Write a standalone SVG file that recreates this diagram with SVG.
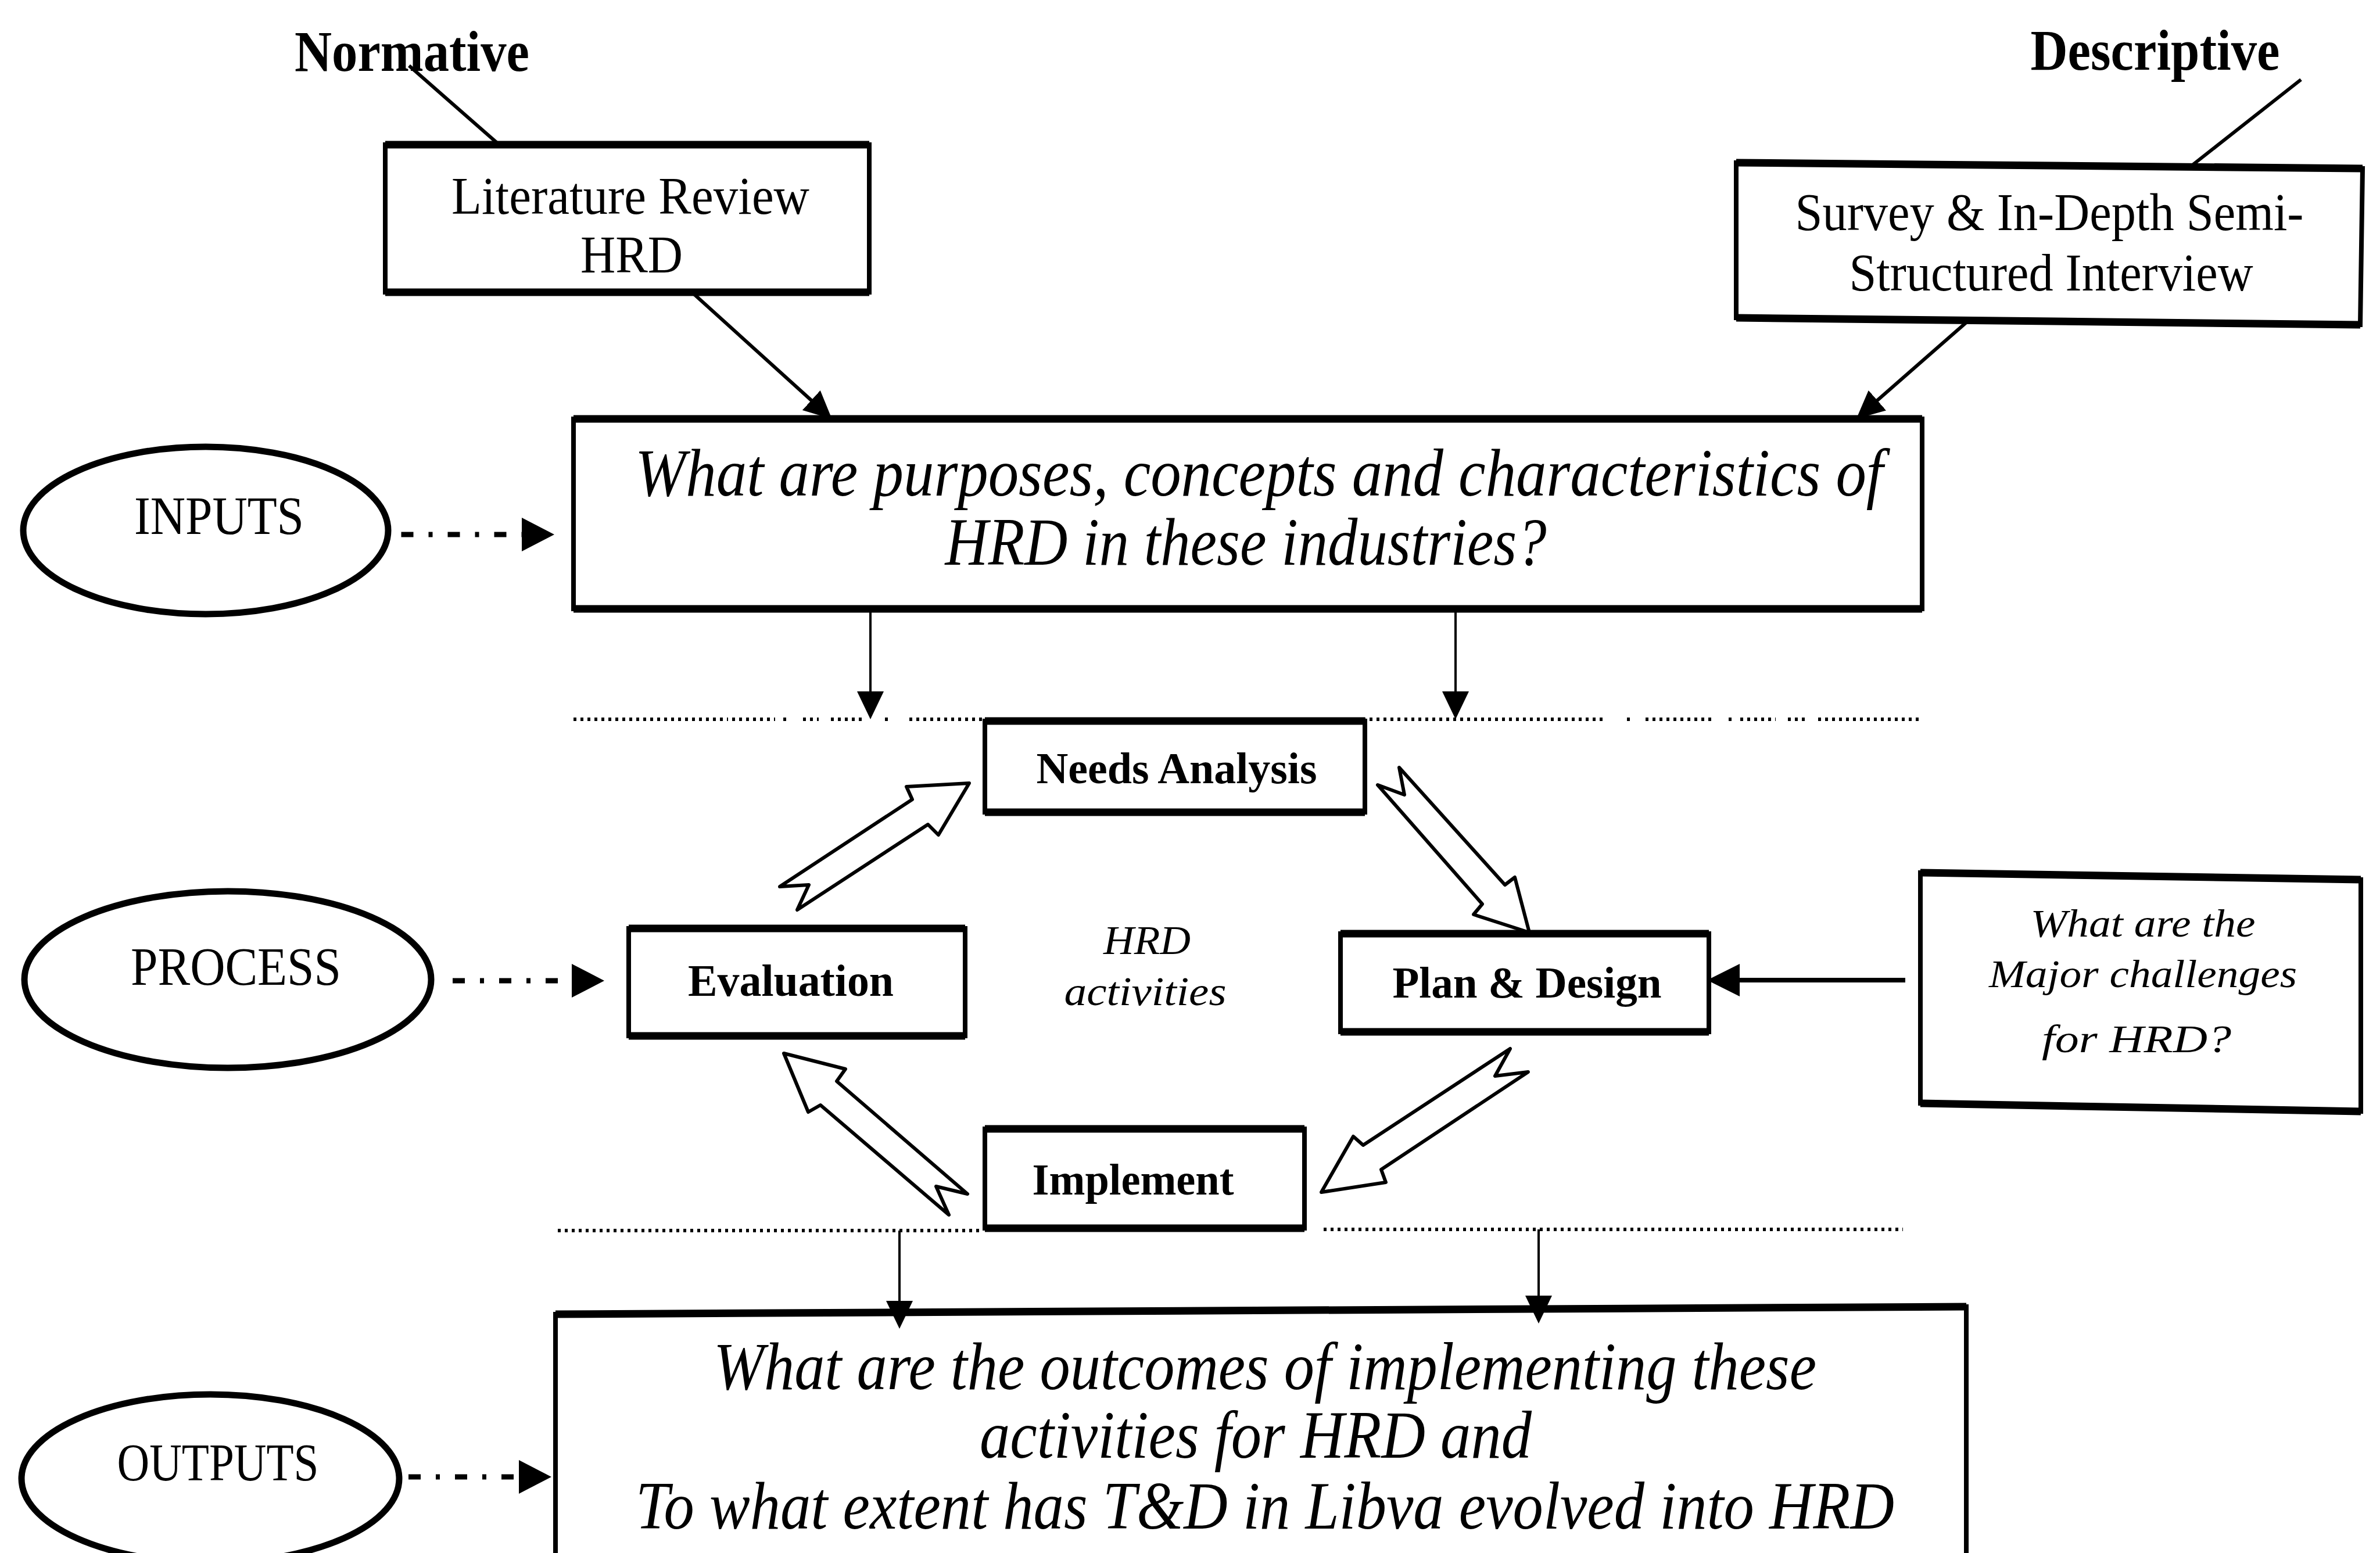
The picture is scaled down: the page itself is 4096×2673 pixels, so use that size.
<svg xmlns="http://www.w3.org/2000/svg" width="4096" height="2673" viewBox="0 0 4096 2673">
  <defs>
    <style>
      .box { fill: #fff; stroke: #000; stroke-width: 8; stroke-linejoin: miter; }
      .edge { fill: none; stroke: #000; stroke-width: 13; }
      .oval { fill: #fff; stroke: #000; stroke-width: 11; }
      .t { font-family: "Liberation Serif", "Times New Roman", serif; fill: #000; text-anchor: middle; }
      .b { font-weight: bold; }
      .i { font-style: italic; }
      .ln { fill: none; stroke: #000; stroke-width: 6; }
      .thin { fill: none; stroke: #000; stroke-width: 4; }
      .heavy { fill: none; stroke: #000; stroke-width: 8; }
      .dashdot { fill: none; stroke: #000; stroke-width: 9; stroke-dasharray: 21 26 7 26; }
      .dots { fill: none; stroke: #000; stroke-width: 6; stroke-dasharray: 5 7; }
      .block { fill: #fff; stroke: #000; stroke-width: 6; stroke-linejoin: round; }
    </style>
    <!-- solid triangular heads; the tip sits (length - refX) past the line end -->
    <marker id="ah" viewBox="0 0 48 46" refX="6" refY="23" markerWidth="48" markerHeight="46" markerUnits="userSpaceOnUse" orient="auto">
      <path d="M0,0 L48,23 L0,46 z" fill="#000"/>
    </marker>
    <marker id="ahw" viewBox="0 0 56 56" refX="6" refY="28" markerWidth="56" markerHeight="56" markerUnits="userSpaceOnUse" orient="auto">
      <path d="M0,0 L56,28 L0,56 z" fill="#000"/>
    </marker>
    <!-- head for the dash-dot level arrows, base placed at the line end -->
    <marker id="dd" viewBox="0 0 56 58" refX="0" refY="29" markerWidth="56" markerHeight="58" markerUnits="userSpaceOnUse" orient="auto">
      <path d="M0,0 L56,29 L0,58 z" fill="#000"/>
    </marker>
  </defs>

  <rect x="0" y="0" width="4096" height="2673" fill="#fff"/>

  <!-- dotted separators between the input, process and output bands -->
  <g id="dividers">
    <path class="dots" d="M987,1238 H1253 M1260,1238 H1334 M1348,1238 H1358 M1382,1238 H1409 M1430,1238 H1484 M1523,1238 H1530 M1565,1238 H2764 M2800,1238 H2812 M2832,1238 H2950 M2975,1238 H2985 M2995,1238 H3056 M3077,1238 H3108 M3129,1238 H3308"/>
    <path class="dots" d="M960,2118 H1690 M2278,2116 H3275"/>
  </g>

  <g id="n-normative">
    <text class="t b" x="709" y="122" font-size="100" textLength="404" lengthAdjust="spacingAndGlyphs">Normative</text>
  </g>
  <g id="n-descriptive">
    <text class="t b" x="3709" y="120" font-size="100" textLength="429" lengthAdjust="spacingAndGlyphs">Descriptive</text>
  </g>

  <g id="n-literature">
    <rect class="box" x="663" y="249" width="833" height="254"/>
    <path class="edge" d="M663,249 H1496 M663,503 H1496"/>
    <text class="t" x="1085" y="368" font-size="92" textLength="616" lengthAdjust="spacingAndGlyphs">Literature Review</text>
    <text class="t" x="1087" y="469" font-size="92" textLength="176" lengthAdjust="spacingAndGlyphs">HRD</text>
  </g>

  <g id="n-survey">
    <polygon class="box" points="2988,280 4066,290 4062,559 2988,547"/>
    <path class="edge" d="M2988,280 L4066,290 M2988,547 L4062,559"/>
    <text class="t" x="3527" y="396" font-size="92" textLength="875" lengthAdjust="spacingAndGlyphs">Survey &amp; In-Depth Semi-</text>
    <text class="t" x="3530" y="500" font-size="92" textLength="695" lengthAdjust="spacingAndGlyphs">Structured Interview</text>
  </g>

  <g id="n-question-inputs">
    <rect class="box" x="987" y="721" width="2321" height="327"/>
    <path class="edge" d="M987,721 H3308 M987,1048 H3308"/>
    <text class="t i" x="2167" y="853" font-size="117" textLength="2148" lengthAdjust="spacingAndGlyphs">What are purposes, concepts and characteristics of</text>
    <text class="t i" x="2144" y="972" font-size="117" textLength="1035" lengthAdjust="spacingAndGlyphs">HRD in these industries?</text>
  </g>

  <g id="n-inputs">
    <ellipse class="oval" cx="354" cy="913" rx="314" ry="144"/>
    <text class="t" x="377" y="919" font-size="94" textLength="292" lengthAdjust="spacingAndGlyphs">INPUTS</text>
  </g>

  <g id="n-process">
    <ellipse class="oval" cx="392" cy="1686" rx="350" ry="152"/>
    <text class="t" x="406" y="1695" font-size="94" textLength="362" lengthAdjust="spacingAndGlyphs">PROCESS</text>
  </g>

  <g id="n-outputs">
    <ellipse class="oval" cx="362" cy="2545" rx="325" ry="145"/>
    <text class="t" x="375" y="2548" font-size="90" textLength="347" lengthAdjust="spacingAndGlyphs">OUTPUTS</text>
  </g>

  <g id="n-needs">
    <rect class="box" x="1695" y="1241" width="654" height="157"/>
    <path class="edge" d="M1695,1241 H2349 M1695,1398 H2349"/>
    <text class="t b" x="2025" y="1348" font-size="76" textLength="483" lengthAdjust="spacingAndGlyphs">Needs Analysis</text>
  </g>

  <g id="n-evaluation">
    <rect class="box" x="1082" y="1598" width="579" height="185"/>
    <path class="edge" d="M1082,1598 H1661 M1082,1783 H1661"/>
    <text class="t b" x="1361" y="1714" font-size="78" textLength="354" lengthAdjust="spacingAndGlyphs">Evaluation</text>
  </g>

  <g id="n-plan">
    <rect class="box" x="2307" y="1607" width="634" height="169"/>
    <path class="edge" d="M2307,1607 H2941 M2307,1776 H2941"/>
    <text class="t b" x="2628" y="1717" font-size="76" textLength="463" lengthAdjust="spacingAndGlyphs">Plan &amp; Design</text>
  </g>

  <g id="n-implement">
    <rect class="box" x="1695" y="1943" width="550" height="171"/>
    <path class="edge" d="M1695,1943 H2245 M1695,2114 H2245"/>
    <text class="t b" x="1950" y="2056" font-size="76" textLength="347" lengthAdjust="spacingAndGlyphs">Implement</text>
  </g>

  <g id="n-hrd-activities">
    <text class="t i" x="1974" y="1642" font-size="70" textLength="150" lengthAdjust="spacingAndGlyphs">HRD</text>
    <text class="t i" x="1971" y="1730" font-size="70" textLength="279" lengthAdjust="spacingAndGlyphs">activities</text>
  </g>

  <g id="n-challenges">
    <polygon class="box" points="3305,1502 4063,1514 4063,1913 3305,1899"/>
    <path class="edge" d="M3305,1502 L4063,1514 M3305,1899 L4063,1913"/>
    <text class="t i" x="3688" y="1612" font-size="68" textLength="387" lengthAdjust="spacingAndGlyphs">What are the</text>
    <text class="t i" x="3688" y="1699" font-size="68" textLength="530" lengthAdjust="spacingAndGlyphs">Major challenges</text>
    <text class="t i" x="3677" y="1811" font-size="68" textLength="326" lengthAdjust="spacingAndGlyphs">for HRD?</text>
  </g>

  <g id="n-question-outputs">
    <polygon class="box" points="956,2262 3384,2249 3384,2700 956,2700"/>
    <path class="edge" d="M956,2262 L3384,2249"/>
    <text class="t i" x="2177" y="2391" font-size="117" textLength="1898" lengthAdjust="spacingAndGlyphs">What are the outcomes of implementing these</text>
    <text class="t i" x="2161" y="2509" font-size="117" textLength="950" lengthAdjust="spacingAndGlyphs">activities for HRD and</text>
    <text class="t i" x="2177" y="2631" font-size="117" textLength="2166" lengthAdjust="spacingAndGlyphs">To what extent has T&amp;D in Libva evolved into HRD</text>
  </g>

  <g id="connectors">
    <!-- source labels tied to their boxes -->
    <path class="ln" d="M704,113 L859,249"/>
    <path class="ln" d="M3960,137 L3772,285"/>
    <!-- sources feeding the input question -->
    <path class="ln" d="M1193,505 L1400.7,693" marker-end="url(#ah)"/>
    <path class="ln" d="M3384,555 L3226.4,693.1" marker-end="url(#ah)"/>
    <!-- input question down into the process band -->
    <path class="thin" d="M1498,1048 V1196" marker-end="url(#ah)"/>
    <path class="thin" d="M2505,1048 V1196" marker-end="url(#ah)"/>
    <!-- process band down into the output question -->
    <path class="thin" d="M1548,2118 V2245" marker-end="url(#ah)"/>
    <path class="thin" d="M2648,2116 V2236" marker-end="url(#ah)"/>
    <!-- challenges into plan & design -->
    <path class="heavy" d="M3279,1687 H2988" marker-end="url(#ahw)"/>
    <!-- level labels pointing at their band -->
    <path class="dashdot" d="M690.5,920 H898" marker-end="url(#dd)"/>
    <path class="dashdot" d="M779,1688 H984" marker-end="url(#dd)"/>
    <path class="dashdot" d="M703,2542 H893" marker-end="url(#dd)"/>
    <!-- notched block arrows of the HRD cycle -->
    <polygon class="block" points="1342,1526 1570,1376 1560,1354 1668,1348 1615,1437 1597,1419 1372,1566 1392,1523"/>
    <polygon class="block" points="2371,1351 2417,1368 2408,1321 2590,1523 2607,1510 2632,1605 2536,1574 2551,1556"/>
    <polygon class="block" points="2599,1805 2573,1852 2630,1845 2377,2013 2385,2035 2274,2052 2329,1956 2346,1971"/>
    <polygon class="block" points="1349,1813 1455,1840 1440,1861 1665,2055 1611,2042 1633,2091 1412,1902 1391,1914"/>
  </g>
</svg>
